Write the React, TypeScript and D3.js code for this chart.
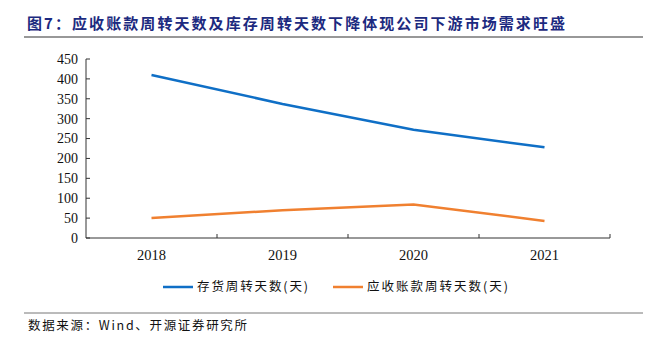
import React from "react";
import * as d3 from "d3";

const categories = ["2018", "2019", "2020", "2021"];
const inventoryDays = [410, 337, 272, 228];
const receivableDays = [50, 70, 84, 43];
const yTicks = [0, 50, 100, 150, 200, 250, 300, 350, 400, 450];
const seriesNames = ["存货周转天数(天)", "应收账款周转天数(天)"];
const colors = ["#0F6FC6", "#F08030"];

export default function App() {
  const W = 658, H = 344;
  const left = 86, right = 610, top = 59, bottom = 238;
  const x = d3.scaleBand<string>().domain(categories).range([left, right]);
  const y = d3.scaleLinear().domain([0, 450]).range([bottom, top]);
  const line = d3
    .line<number>()
    .x((_, i) => (x(categories[i]) as number) + x.bandwidth() / 2)
    .y((d) => y(d));
  const serif = "'Liberation Serif', 'Times New Roman', serif";
  const cjk = "'Noto Sans CJK SC', sans-serif";
  const bounds = [left, ...categories.map((c) => (x(c) as number) + x.bandwidth())];
  return (
    <svg width={W} height={H} style={{ position: "absolute", left: 0, top: 0 }}>
      <rect width={W} height={H} fill="#fff" />
      <text x={27} y={29} fontFamily={cjk} fontWeight="bold" fontSize={15} fill="#1C2A80"
        textLength={538} lengthAdjust="spacing">
        图7：应收账款周转天数及库存周转天数下降体现公司下游市场需求旺盛
      </text>
      <line x1={24} x2={643} y1={37} y2={37} stroke="#333" strokeWidth={1.2} />
      {yTicks.map((t) => (
        <g key={t}>
          <line x1={left} x2={left + 4} y1={y(t)} y2={y(t)} stroke="#333" />
          <text x={left - 8} y={y(t)} dy="0.35em" textAnchor="end" fontFamily={serif} fontSize={14} fill="#111">
            {t}
          </text>
        </g>
      ))}
      <line x1={left} x2={left} y1={top} y2={bottom} stroke="#333" />
      <line x1={left} x2={right} y1={bottom} y2={bottom} stroke="#333" />
      {bounds.slice(1).map((b, i) => (
        <line key={i} x1={b} x2={b} y1={bottom} y2={bottom - 4} stroke="#333" />
      ))}
      {categories.map((c) => (
        <text key={c} x={(x(c) as number) + x.bandwidth() / 2} y={bottom + 22} textAnchor="middle" fontFamily={serif} fontSize={14.5} fill="#111">
          {c}
        </text>
      ))}
      <path d={line(inventoryDays) || ""} fill="none" stroke={colors[0]} strokeWidth={2.5} />
      <path d={line(receivableDays) || ""} fill="none" stroke={colors[1]} strokeWidth={2.5} />
      <line x1={163} x2={193} y1={287} y2={287} stroke={colors[0]} strokeWidth={2.5} />
      <text x={197} y={287} dy="0.35em" fontFamily={cjk} fontSize={12.5} fill="#111"
        textLength={111} lengthAdjust="spacing">{seriesNames[0]}</text>
      <line x1={333} x2={363} y1={287} y2={287} stroke={colors[1]} strokeWidth={2.5} />
      <text x={367} y={287} dy="0.35em" fontFamily={cjk} fontSize={12.5} fill="#111"
        textLength={141} lengthAdjust="spacing">{seriesNames[1]}</text>
      <line x1={24} x2={643} y1={313} y2={313} stroke="#777" strokeWidth={1} />
      <text x={28} y={326} dy="0.35em" fontFamily={cjk} fontSize={12.5} fill="#111"
        textLength={219} lengthAdjust="spacing">
        数据来源：Wind、开源证券研究所
      </text>
    </svg>
  );
}
